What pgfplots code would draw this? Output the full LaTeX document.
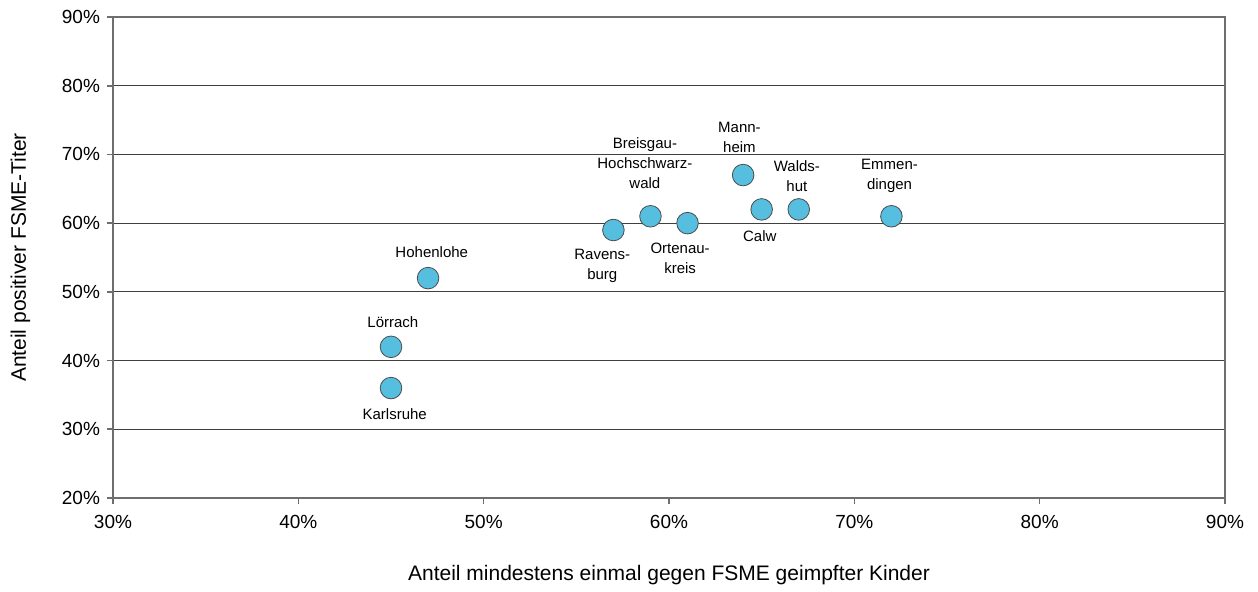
\documentclass[border=0pt]{standalone}
\usepackage{pgfplots}
\pgfplotsset{compat=1.18}
\usetikzlibrary{calc}
\usepackage{fontspec}
\setmainfont{Liberation Sans}
\definecolor{mk}{RGB}{86,190,222}
\definecolor{ax}{RGB}{110,110,110}
\begin{document}
\begin{tikzpicture}
\begin{axis}[
  scale only axis, width=556pt, height=240.5pt,
  xmin=30, xmax=90, ymin=20, ymax=90,
  xtick={30,40,...,90}, ytick={20,30,...,90},
  xticklabel={\pgfmathprintnumber{\tick}\%}, yticklabel={\pgfmathprintnumber{\tick}\%},
  /pgf/number format/assume math mode=true,
  tick label style={font=\fontsize{9.5}{11}\selectfont},
  xticklabel style={yshift=-2pt},
  axis line style={ax, line width=0.8pt},
  tick style={ax, line width=0.8pt},
  tick align=outside, major tick length=3pt,
  xtick pos=bottom, ytick pos=left,
  ymajorgrids, grid style={black!75, line width=0.6pt},
  xlabel={Anteil mindestens einmal gegen FSME geimpfter Kinder},
  ylabel={Anteil positiver FSME-Titer},
  label style={font=\fontsize{10.5}{12}\selectfont},
  xlabel style={yshift=-11.5pt},
  ylabel style={yshift=9pt},
  clip=false,
]
\addplot[only marks, mark=*, mark size=5.4pt, mark options={fill=mk, draw=black!70, line width=0.4pt}] coordinates {
(45,36) (45,42) (47,52) (57,59) (59,61) (61,60) (64,67) (65,62) (67,62) (72,61)
};
\coordinate (ll) at (rel axis cs:0,0);
\coordinate (ur) at (rel axis cs:1,1);
\begin{scope}[every node/.style={font=\fontsize{7.5}{10}\selectfont, align=center, inner sep=0pt}]
\node at (axis cs:47.2,55.8) {Hohenlohe};
\node at (axis cs:45.1,45.6) {Lörrach};
\node at (axis cs:45.2,32.2) {Karlsruhe};
\node at (axis cs:56.4,53.8) {Ravens-\\burg};
\node at (axis cs:58.7,68.8) {Breisgau-\\Hochschwarz-\\wald};
\node at (axis cs:60.6,54.9) {Ortenau-\\kreis};
\node at (axis cs:63.8,72.5) {Mann-\\heim};
\node at (axis cs:64.9,58.1) {Calw};
\node at (axis cs:66.9,66.9) {Walds-\\hut};
\node at (axis cs:71.9,66.9) {Emmen-\\dingen};
\end{scope}
\end{axis}
\path (ll) ++(-56.5pt,-46pt) rectangle ($(ur)+(16.5pt,8.5pt)$);
\end{tikzpicture}
\end{document}
